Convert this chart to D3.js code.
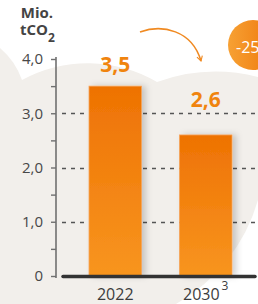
<!DOCTYPE html>
<html>
<head>
<meta charset="utf-8">
<script src="https://cdn.jsdelivr.net/npm/d3@7"></script>
<style>
  html, body { margin: 0; padding: 0; background: #fff; }
  svg { display: block; font-family: "Open Sans", sans-serif; }
</style>
</head>
<body>
<div id="chart"></div>
<script>
// values
var years = ['2022', '2030'];
var footnotes = ['', '3'];
var emissions = [3.5, 2.6];
var majorTicks = [0, 1, 2, 3, 4];
var tickLabels = ['0', '1,0', '2,0', '3,0', '4,0'];
var minorTicks = [0.5, 1.5, 2.5, 3.5];
var gridValues = [1, 2, 3];
var unitLines = ['Mio.', 'tCO'];
var changeLabel = '-25 %';

var width = 258,
    height = 304;

var svg = d3.select('#chart')
   .append('svg')
   .attr('width', width)
   .attr('height', height);

var defs = svg.append('defs');

var barGrad = defs.append('linearGradient')
   .attr('id', 'barGrad')
   .attr('x1', 0).attr('y1', 0).attr('x2', 0).attr('y2', 1);
barGrad.append('stop').attr('offset', '0%').attr('stop-color', '#ee7203');
barGrad.append('stop').attr('offset', '100%').attr('stop-color', '#f8951f');

var badgeGrad = defs.append('linearGradient')
   .attr('id', 'badgeGrad')
   .attr('x1', 0).attr('y1', 0).attr('x2', 1).attr('y2', 0);
badgeGrad.append('stop').attr('offset', '0%').attr('stop-color', '#f7a134');
badgeGrad.append('stop').attr('offset', '100%').attr('stop-color', '#ee7608');

var shadow = defs.append('filter')
   .attr('id', 'shadow')
   .attr('x', '-20%').attr('y', '-10%')
   .attr('width', '150%').attr('height', '130%');
shadow.append('feDropShadow')
   .attr('dx', 4).attr('dy', 0)
   .attr('stdDeviation', 3)
   .attr('flood-color', '#000')
   .attr('flood-opacity', 0.18);

var marker = defs.append('marker')
   .attr('id', 'arrowHead')
   .attr('viewBox', '0 0 10 10')
   .attr('refX', 8).attr('refY', 5)
   .attr('markerWidth', 7).attr('markerHeight', 7)
   .attr('markerUnits', 'userSpaceOnUse')
   .attr('orient', 'auto');
marker.append('path')
   .attr('d', 'M1,1 L8,5 L1,9')
   .attr('fill', 'none')
   .attr('stroke', '#f08a22')
   .attr('stroke-width', 1.6);

// grey cloud in the background
svg.append('path')
   .attr('d', 'M0,48 A75,75 0 0,1 22,80 A137,137 0 0,1 157,82 A173,173 0 0,1 258,77 ' +
              'L258,200 A175,175 0 0,1 176,304 L0,304 Z')
   .attr('fill', '#f2efeb');

var y = d3.scaleLinear()
   .domain([0, 4])
   .range([276, 59]);

var x = d3.scaleBand()
   .domain(years)
   .range([70, 251])
   .paddingInner(0.42)
   .paddingOuter(0.21);

// dashed grid lines
svg.append('g')
   .selectAll('line')
   .data(gridValues)
   .enter().append('line')
   .attr('x1', 62)
   .attr('x2', 256)
   .attr('y1', function (d) { return Math.round(y(d)) + 0.5; })
   .attr('y2', function (d) { return Math.round(y(d)) + 0.5; })
   .attr('stroke', '#555')
   .attr('stroke-width', 1.5)
   .attr('stroke-dasharray', '4,5');

// bars
svg.append('g')
   .selectAll('rect')
   .data(emissions)
   .enter().append('rect')
   .attr('x', function (d, i) { return x(years[i]); })
   .attr('y', function (d) { return y(d); })
   .attr('width', x.bandwidth())
   .attr('height', function (d) { return y(0) - y(d); })
   .attr('fill', 'url(#barGrad)')
   .attr('stroke', '#f6a45a')
   .attr('stroke-width', 0.8)
   .attr('filter', 'url(#shadow)');

// value labels: above the bar, lifted over a grid line if they would sit on it
function labelY(d) {
   var base = y(d) - 14;
   gridValues.forEach(function (g) {
      var gy = y(g);
      if (gy > base - 16 && gy < base + 1) base = gy - 6;
   });
   return base;
}

svg.append('g')
   .selectAll('text')
   .data(emissions)
   .enter().append('text')
   .attr('x', function (d, i) { return x(years[i]) + x.bandwidth() / 2; })
   .attr('y', labelY)
   .attr('text-anchor', 'middle')
   .attr('font-size', 21)
   .attr('font-weight', 700)
   .attr('fill', '#f0840e')
   .text(function (d) { return d.toFixed(1).replace('.', ','); });

// y axis
var yAxis = d3.axisLeft(y)
   .tickValues(majorTicks.concat(minorTicks))
   .tickSize(5)
   .tickFormat(function (d) {
      var idx = majorTicks.indexOf(d);
      return idx >= 0 ? tickLabels[idx] : '';
   });

var axisG = svg.append('g')
   .attr('transform', 'translate(56,0)')
   .call(yAxis);
axisG.select('.domain')
   .attr('d', 'M0,' + (y(4) - 2) + 'V' + (y(0) + 2))
   .attr('stroke', '#707070')
   .attr('stroke-width', 1.6);
axisG.selectAll('.tick line')
   .attr('stroke', '#707070')
   .attr('stroke-width', 1.4);
axisG.selectAll('.tick text')
   .attr('x', -13)
   .attr('font-family', '"Open Sans", sans-serif')
   .attr('font-size', 15)
   .attr('fill', '#484848');

// base line
svg.append('line')
   .attr('x1', 63)
   .attr('x2', 255)
   .attr('y1', y(0) + 0.5)
   .attr('y2', y(0) + 0.5)
   .attr('stroke', '#333')
   .attr('stroke-width', 3.5)
   .attr('stroke-linecap', 'round');

// category labels
var cat = svg.append('g')
   .selectAll('text')
   .data(years)
   .enter().append('text')
   .attr('x', function (d) { return x(d) + x.bandwidth() / 2; })
   .attr('y', 300)
   .attr('text-anchor', 'middle')
   .attr('font-size', 16)
   .attr('fill', '#3c3c3c');
cat.append('tspan').text(function (d) { return d; });
cat.append('tspan')
   .attr('dx', 2)
   .attr('dy', -10)
   .attr('font-size', 12)
   .text(function (d, i) { return footnotes[i]; });

// unit label
svg.append('text')
   .attr('x', 37)
   .attr('y', 18)
   .attr('text-anchor', 'middle')
   .attr('font-size', 15)
   .attr('font-weight', 700)
   .attr('fill', '#444')
   .text(unitLines[0]);
var unit2 = svg.append('text')
   .attr('x', 20)
   .attr('y', 35)
   .attr('font-size', 15)
   .attr('font-weight', 700)
   .attr('fill', '#444');
unit2.append('tspan').text(unitLines[1]);
unit2.append('tspan')
   .attr('dy', 7)
   .attr('font-size', 12)
   .text('2');

// curved arrow
svg.append('path')
   .attr('d', 'M140,32 C162,24 192,30 201,61')
   .attr('fill', 'none')
   .attr('stroke', '#f08a22')
   .attr('stroke-width', 1.6)
   .attr('marker-end', 'url(#arrowHead)');

// change badge
svg.append('circle')
   .attr('cx', 253)
   .attr('cy', 45)
   .attr('r', 25)
   .attr('fill', 'url(#badgeGrad)');
svg.append('text')
   .attr('x', 236)
   .attr('y', 53)
   .attr('font-size', 16)
   .attr('fill', '#fff')
   .text(changeLabel);
</script>
</body>
</html>
